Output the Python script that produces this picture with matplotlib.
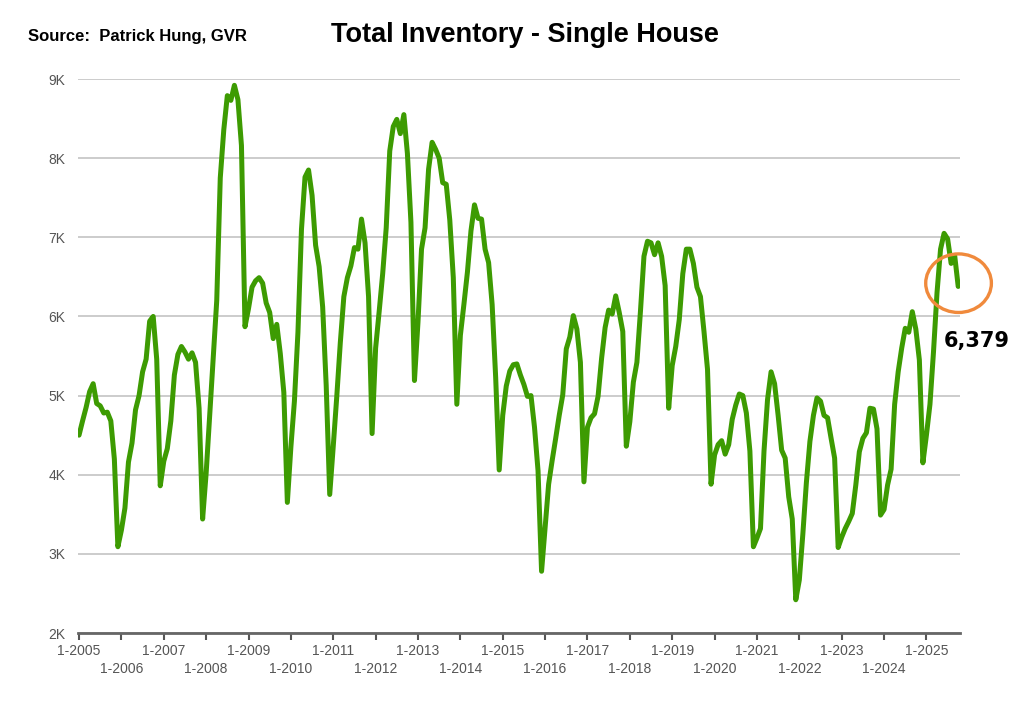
import matplotlib
matplotlib.use("Agg")
import matplotlib.pyplot as plt
from matplotlib.patches import Ellipse
import numpy as np

# monthly total inventory, single house (thousands), Jan 2005 - Oct 2025
y2005 = [4.50, 4.68, 4.85, 5.05, 5.15, 4.90, 4.87, 4.78, 4.79, 4.68, 4.20, 3.09]
y2006 = [3.30, 3.58, 4.16, 4.40, 4.82, 5.00, 5.30, 5.46, 5.94, 6.00, 5.46, 3.86]
y2007 = [4.17, 4.33, 4.68, 5.26, 5.52, 5.62, 5.55, 5.46, 5.54, 5.42, 4.84, 3.44]
y2008 = [4.02, 4.75, 5.47, 6.20, 7.75, 8.36, 8.79, 8.73, 8.92, 8.74, 8.16, 5.87]
y2009 = [6.10, 6.37, 6.45, 6.49, 6.42, 6.17, 6.05, 5.72, 5.90, 5.53, 5.04, 3.65]
y2010 = [4.35, 4.93, 5.80, 7.10, 7.76, 7.85, 7.53, 6.90, 6.63, 6.12, 5.13, 3.75]
y2011 = [4.36, 4.99, 5.67, 6.25, 6.49, 6.64, 6.87, 6.85, 7.23, 6.93, 6.25, 4.52]
y2012 = [5.60, 6.06, 6.54, 7.12, 8.09, 8.40, 8.49, 8.31, 8.55, 8.06, 7.19, 5.19]
y2013 = [5.93, 6.85, 7.12, 7.86, 8.20, 8.11, 8.00, 7.69, 7.67, 7.22, 6.49, 4.89]
y2014 = [5.76, 6.15, 6.56, 7.08, 7.41, 7.24, 7.23, 6.85, 6.68, 6.15, 5.23, 4.06]
y2015 = [4.75, 5.12, 5.31, 5.39, 5.40, 5.26, 5.14, 4.99, 5.00, 4.60, 4.05, 2.78]
y2016 = [3.33, 3.88, 4.18, 4.46, 4.75, 5.01, 5.59, 5.74, 6.01, 5.84, 5.42, 3.91]
y2017 = [4.60, 4.72, 4.77, 4.99, 5.47, 5.86, 6.08, 6.03, 6.26, 6.05, 5.81, 4.36]
y2018 = [4.67, 5.17, 5.42, 6.06, 6.76, 6.95, 6.93, 6.78, 6.93, 6.76, 6.39, 4.84]
y2019 = [5.38, 5.62, 5.96, 6.54, 6.85, 6.85, 6.67, 6.37, 6.25, 5.81, 5.33, 3.88]
y2020 = [4.25, 4.38, 4.43, 4.26, 4.38, 4.70, 4.88, 5.02, 5.00, 4.78, 4.30, 3.09]
y2021 = [3.20, 3.32, 4.30, 4.95, 5.30, 5.15, 4.75, 4.31, 4.21, 3.72, 3.44, 2.42]
y2022 = [2.67, 3.25, 3.90, 4.42, 4.75, 4.97, 4.93, 4.75, 4.72, 4.46, 4.21, 3.08]
y2023 = [3.21, 3.32, 3.41, 3.51, 3.87, 4.29, 4.46, 4.53, 4.84, 4.83, 4.58, 3.49]
y2024 = [3.56, 3.87, 4.07, 4.89, 5.30, 5.60, 5.85, 5.80, 6.06, 5.84, 5.45, 4.15]
y2025 = [4.50, 4.89, 5.55, 6.30, 6.85, 7.05, 6.98, 6.67, 6.77, 6.379]

years = list(range(2005, 2026))
tick_labels = ["1-%d" % yr for yr in years]
last_label = "6,379"

inventory = np.array(y2005 + y2006 + y2007 + y2008 + y2009 + y2010 + y2011 + y2012 +
                     y2013 + y2014 + y2015 + y2016 + y2017 + y2018 + y2019 + y2020 +
                     y2021 + y2022 + y2023 + y2024 + y2025)
months = np.arange(len(inventory))

fig = plt.figure(figsize=(10.22, 7.01), dpi=100)
ax = fig.add_axes([0.0763, 0.097, 0.863, 0.7903])

ax.plot(months, inventory, color="#3d9b02", lw=3.6, solid_joinstyle="round",
        solid_capstyle="round", zorder=3)

ax.set_ylim(2, 9)
ax.set_xlim(-0.3, 249.5)
ax.set_yticks(range(2, 10))
ax.set_yticklabels(["%dK" % v for v in range(2, 10)])
ax.yaxis.grid(True, color="#c4c4c4", lw=1.2)
ax.set_axisbelow(True)

# januaries: odd rows on top, even rows underneath
jan = [12 * i for i in range(len(years))]
ax.set_xticks(jan[0::2])
ax.set_xticklabels(tick_labels[0::2])
ax.set_xticks(jan[1::2], minor=True)
ax.set_xticklabels(tick_labels[1::2], minor=True)
ax.tick_params(axis="x", which="major", length=5, width=1.5, color="#555555",
               pad=3, labelsize=10, labelcolor="#555555")
ax.tick_params(axis="x", which="minor", length=5, width=1.5, color="#555555",
               pad=16, labelsize=10, labelcolor="#555555")
ax.tick_params(axis="y", length=0, pad=9, labelsize=10, labelcolor="#555555")
for lbl in ax.get_xticklabels(which="both") + ax.get_yticklabels():
    lbl.set_family("Liberation Sans")

for s in ["top", "right", "left"]:
    ax.spines[s].set_visible(False)
ax.spines["bottom"].set_color("#666666")
ax.spines["bottom"].set_linewidth(2)

# orange circle around the latest readings
ax.add_patch(Ellipse((249.1, 6.42), 18.6, 0.74, fill=False, ec="#f08a3c",
                     lw=2.4, clip_on=False, zorder=4))
fig.text(977 / 1022, 1 - 341 / 701, last_label, ha="center", va="center",
         fontsize=15, fontweight="bold", family="DejaVu Sans")

fig.text(525 / 1022, 1 - 35 / 701, "Total Inventory - Single House", ha="center",
         va="center", fontsize=19.5, fontweight="bold", family="Liberation Sans")
fig.text(28 / 1022, 1 - 37 / 701, "Source:  Patrick Hung, GVR", ha="left",
         va="center", fontsize=12, fontweight="bold", family="Liberation Sans")

fig.savefig("out.png", dpi=100, facecolor="white")
